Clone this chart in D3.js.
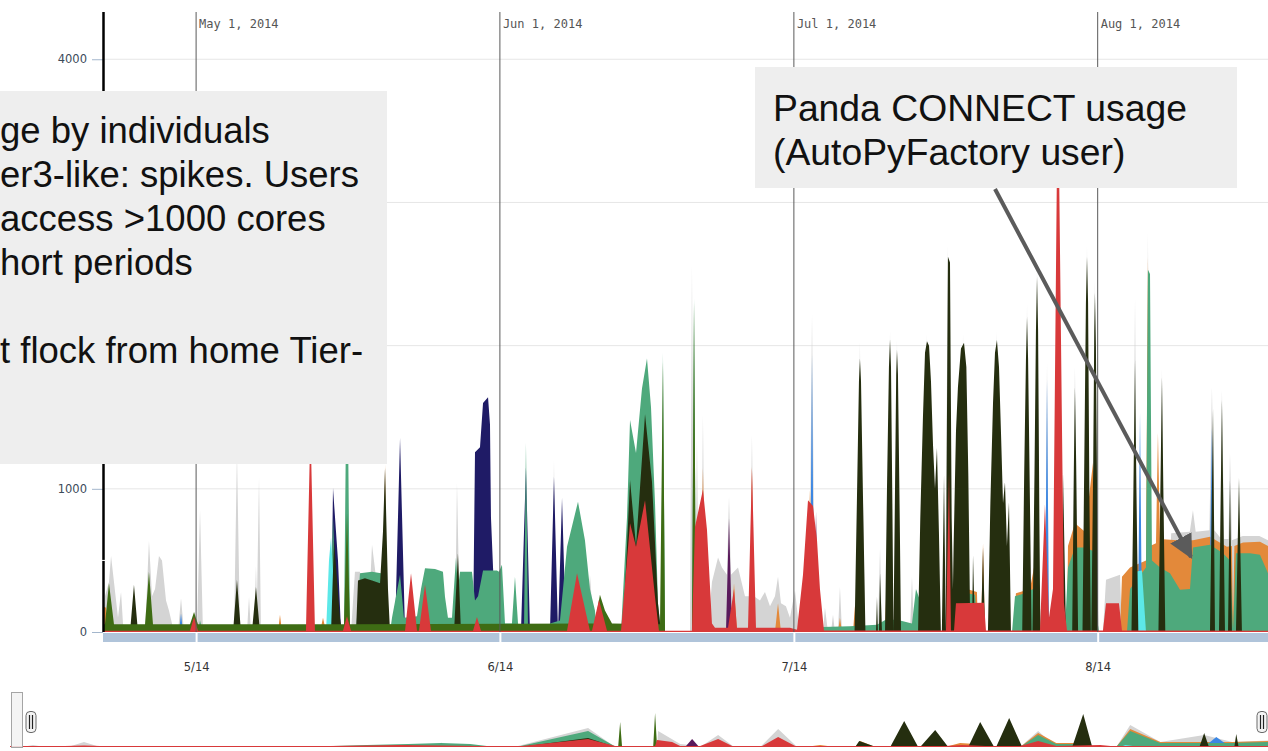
<!DOCTYPE html>
<html><head><meta charset="utf-8">
<script src="https://cdn.jsdelivr.net/npm/d3@7"></script>
<style>html,body{margin:0;padding:0;background:#fff;overflow:hidden}</style>
</head><body>
<svg id="c" width="1268" height="751"></svg>
<script>
// ---------- data ----------
// time: days after 2014-04-21 12:00 (left edge of the view); value: cores (top of each band)
const viewStart = [2014, 3, 21, 12];
const viewDays = 118.88;
const gridTicks = [1000, 2000, 3000, 4000];
const labelTicks = [0, 1000, 4000];          // 2000 / 3000 are hidden behind the note box
const monthStarts = ["2014-05-01", "2014-06-01", "2014-07-01", "2014-08-01"];
const monthTopLabels = ["May 1, 2014", "Jun 1, 2014", "Jul 1, 2014", "Aug 1, 2014"];

const other = [[0,0],[0.2,250],[0.61,350],[0.82,530],[1.12,350],[1.53,100],[1.84,280],[2.04,60],[2.24,0],
[4.29,0],[4.69,635],[5.0,250],[5.31,300],[5.71,530],[6.02,500],[6.43,220],[6.73,150],[7.04,60],[7.24,0],
[7.65,0],[7.96,235],[8.27,0],[9.59,0],[9.9,850],[10.2,0],[13.37,0],[13.67,1250],[13.98,0],
[14.69,0],[14.9,245],[15.1,0],[15.41,0],[15.61,460],[15.71,200],[15.92,1075],[16.12,0],
[19.8,0],[20.0,60],[20.2,0],[25.31,0],[25.71,420],[26.22,420],[26.43,0],[27.04,0],[27.45,610],[27.86,380],[28.27,0],
[35.92,0],[36.12,1040],[36.43,0],[45.82,0],[46.02,1200],[46.22,0],[49.29,0],[49.69,400],[50.1,0],
[59.9,0],[60.1,2560],[60.31,0],[60.41,0],[60.61,1340],[60.82,0],[61.02,0],[61.22,1515],[61.43,0],
[61.73,0],[62.14,350],[62.76,520],[63.16,450],[63.67,400],[63.88,945],[64.08,400],[64.8,450],[65.51,250],[66.02,250],[66.22,1375],[66.43,250],[67.04,220],[67.55,280],[68.06,180],[68.57,250],[68.88,385],[69.18,200],[69.69,180],[70.1,100],[70.61,290],[70.92,100],[71.43,0],
[72.04,0],[72.35,2215],[72.65,0],[73.47,0],[73.67,170],[73.98,0],[74.29,0],[74.49,120],[74.69,0],[75.0,0],[75.2,315],[75.41,0],
[76.94,0],[77.24,2025],[77.45,500],[77.55,920],[77.76,0],[79.08,0],[79.29,585],[79.49,0],
[80.0,0],[80.31,2110],[80.55,0],[80.75,0],[81.02,2040],[81.3,0],[82.35,0],[82.55,385],[82.76,0],
[83.7,0],[84.08,2080],[84.45,0],[85.92,0],[86.22,2700],[86.5,0],[87.4,0],[87.76,2080],[88.1,0],
[90.92,0],[91.22,2100],[91.5,0],[93.98,0],[94.29,2290],[94.55,0],[95.0,0],[95.31,2560],[95.6,0],
[96.12,0],[96.33,1880],[96.53,0],[98.88,0],[99.18,1850],[99.49,0],[100.1,0],[100.41,2700],[100.7,0],
[100.95,0],[101.22,2460],[101.5,0],[102.04,0],[102.35,365],[103.78,400],[103.98,0],
[105.05,0],[105.31,2330],[105.55,0],[106.43,0],[106.63,2790],[106.84,0],[107.8,0],[108.06,1840],[108.3,0],
[108.6,0],[109.0,690],[110.9,700],[111.22,850],[111.5,700],[112.9,710],[113.16,1710],[113.4,710],[114.0,660],[114.18,1690],[114.4,650],[114.85,650],[115.0,1250],[115.2,640],[116.3,670],[118.0,670],[118.88,640]];

const orange = [[0,180],[0.31,170],[0.51,0],[17.86,0],[18.06,120],[18.27,0],[22.14,0],[22.45,100],[22.76,0],
[28.57,0],[28.78,1170],[28.98,0],[60.92,0],[61.22,1145],[61.53,0],[64.08,0],[64.39,340],[64.69,0],
[66.02,0],[66.22,1160],[66.43,0],[68.57,0],[68.88,200],[69.18,0],[71.73,0],[72.14,990],[72.55,0],
[75.0,0],[75.2,100],[75.41,0],[76.53,0],[76.73,180],[76.94,0],[79.8,0],[80.0,455],[80.31,0],
[88.06,0],[88.16,300],[89.18,280],[89.29,0],[89.59,0],[89.8,620],[90.0,0],[90.61,0],[90.82,980],[91.02,0],
[92.86,0],[93.16,270],[94.59,300],[95.31,560],[95.61,0],
[98.37,0],[98.47,600],[99.18,760],[100.2,700],[101.02,1180],[101.33,600],[101.53,0],
[103.78,0],[103.98,385],[104.8,450],[106.43,500],[106.63,2620],[106.84,600],[107.45,620],[107.65,1390],[107.86,650],[109.59,640],[111.22,640],[112.96,665],[114.69,595],[115.2,600],[115.31,60],[115.45,600],[116.33,625],[118.06,630],[118.88,600]];

const purple = [[63.57,0],[63.88,795],[64.18,0],[72.55,0],[72.76,840],[72.96,0]];

const blue = [[7.76,0],[7.96,130],[8.16,0],[72.14,0],[72.35,1935],[72.55,0],[96.12,0],[96.33,1760],[96.53,0],
[105.61,0],[105.82,1530],[106.02,0],[112.86,0],[113.16,1425],[113.47,0]];

const navy = [[23.27,0],[23.47,1005],[23.98,500],[24.29,0],[29.8,0],[30.31,1355],[30.82,0],
[37.76,0],[37.96,1255],[38.47,1290],[38.78,1600],[39.29,1640],[39.49,1450],[39.59,800],[39.8,450],[40.1,0],
[42.65,0],[43.16,1150],[43.57,0],[45.61,0],[46.02,1085],[46.43,0],[46.84,935],[47.24,0]];

const green = [[9.69,0],[9.9,80],[10.2,0],[23.16,0],[23.47,800],[23.88,0],[24.59,0],[24.8,1450],[25.0,1450],[25.2,0],
[25.82,0],[26.22,410],[27.45,420],[28.37,410],[28.67,0],
[29.29,0],[29.49,100],[30.31,400],[30.71,100],[32.04,110],[32.45,300],[32.86,445],[33.88,440],[34.69,420],[34.9,245],[35.2,100],[35.61,100],[36.02,520],[36.22,300],[36.43,420],[37.65,420],[37.96,220],[38.27,250],[38.78,430],[40.2,430],[40.41,420],[40.71,470],[41.02,60],[41.73,60],[42.04,385],[42.35,60],[42.65,0],
[42.96,0],[43.16,1320],[43.37,0],
[45.41,0],[45.61,60],[46.63,80],[47.35,595],[48.47,910],[49.18,640],[49.69,300],[50.2,150],[50.4,0],
[52.86,0],[53.47,800],[53.78,1480],[54.39,1250],[55.0,1700],[55.51,1910],[55.92,1570],[56.33,900],[56.63,200],[56.94,0],
[57.14,1950],[57.35,0],[60.1,0],[60.31,2330],[60.51,0],
[73.16,0],[73.37,35],[76.22,40],[78.98,50],[80.0,90],[81.33,80],[82.55,60],[82.96,300],[83.37,220],[83.78,0],
[88.06,0],[88.16,270],[88.98,260],[89.29,0],[92.76,0],[93.06,250],[94.08,270],[94.9,300],[95.41,520],[95.71,0],
[98.16,0],[98.47,450],[99.18,590],[100.2,590],[101.22,560],[101.43,100],[101.63,0],
[104.49,0],[104.8,300],[106.43,450],[106.63,2530],[106.84,2500],[107.04,500],[107.86,450],[108.88,410],[109.9,295],[110.92,300],[111.22,590],[112.96,610],[114.29,550],[115.0,500],[115.31,20],[115.61,550],[117.04,550],[118.06,540],[118.88,410]];

const cyan = [[22.76,0],[23.06,500],[23.27,660],[23.57,300],[23.78,0],[105.0,0],[105.31,420],[106.02,430],[106.43,0]];

const dark = [[2.76,0],[3.16,330],[3.57,0],[13.27,0],[13.67,365],[14.08,0],[15.2,0],[15.61,315],[16.02,0],
[23.27,0],[23.57,640],[24.18,100],[24.39,0],
[25.82,0],[26.02,360],[26.73,375],[27.45,360],[28.27,340],[28.57,700],[28.78,1145],[29.08,300],[29.29,0],
[35.82,0],[36.22,550],[36.53,0],
[53.06,0],[53.78,1060],[54.39,600],[55.31,1520],[56.02,1050],[56.63,200],[56.94,0],
[76.69,0],[76.94,950],[77.14,1750],[77.24,1910],[77.35,1750],[77.55,950],[77.8,0],
[78.88,0],[78.98,245],[79.08,0],[79.18,0],[79.29,410],[79.49,0],
[79.8,0],[80.0,1000],[80.2,1850],[80.31,2045],[80.41,1850],[80.55,900],[80.66,0],
[80.82,1000],[80.94,1800],[81.02,1970],[81.12,1800],[81.3,800],[81.43,0],
[83.17,0],[83.4,800],[83.67,1500],[83.88,1950],[84.08,2030],[84.29,2000],[84.49,1750],[84.7,1300],[84.9,1000],[85.1,1285],[85.3,700],[85.5,0],
[85.6,0],[85.82,1095],[86.0,0],[86.12,1500],[86.22,2620],[86.43,2580],[86.6,800],[86.73,300],
[86.8,600],[87.04,1400],[87.24,1710],[87.55,1980],[87.86,2020],[88.1,1850],[88.3,1100],[88.5,0],
[88.67,0],[88.78,535],[88.98,0],[89.59,0],[89.8,590],[90.0,0],
[90.3,0],[90.55,900],[90.82,1600],[91.02,1950],[91.22,2040],[91.43,1850],[91.63,1400],[91.84,900],[92.04,1045],[92.24,600],[92.45,905],[92.65,0],
[93.8,0],[94.0,1100],[94.18,1900],[94.29,2200],[94.4,1900],[94.59,900],[94.75,0],
[94.85,0],[95.05,1100],[95.2,2100],[95.31,2480],[95.42,2100],[95.55,800],[95.65,0],
[97.76,0],[97.96,1110],[98.27,0],
[98.9,0],[99.08,1200],[99.18,1710],[99.3,1200],[99.5,0],
[99.95,0],[100.15,1300],[100.3,2300],[100.41,2620],[100.52,2300],[100.65,1000],[100.8,0],
[100.85,0],[101.05,1200],[101.15,2100],[101.22,2370],[101.32,2000],[101.45,900],[101.55,0],
[104.95,0],[105.15,1000],[105.31,1900],[105.45,1000],[105.65,0],
[107.7,0],[107.9,1000],[108.06,1780],[108.2,1000],[108.4,0],
[112.96,0],[113.27,1560],[113.47,0],[113.88,0],[114.18,1620],[114.49,0],[114.8,0],[115.0,1060],[115.2,0],[115.61,0],[115.92,1075],[116.22,0]];

const olive = [[0,55],[0.2,55],[0.61,340],[1.12,55],[4.29,55],[4.69,420],[5.1,55],[8.88,55],[9.29,140],[9.69,55],
[24.59,55],[24.9,830],[25.2,55],[50.2,60],[50.71,260],[51.22,150],[51.94,60],
[56.84,55],[57.14,1885],[57.35,0],[60.1,0],[60.31,2300],[60.51,0],[118.88,0]];

const red = [[0,8],[8.88,8],[9.29,105],[9.69,8],[20.71,8],[21.17,1450],[21.63,8],[24.49,8],[24.9,110],[25.31,8],
[30.82,8],[31.43,410],[32.04,8],[32.24,8],[32.86,330],[33.47,8],[37.76,8],[38.16,105],[38.57,8],
[47.35,8],[48.37,410],[49.69,8],[49.9,8],[50.61,225],[51.43,8],
[52.86,8],[53.78,760],[54.39,595],[55.31,920],[56.33,245],[56.73,8],
[60.1,8],[60.41,735],[61.22,995],[61.63,715],[62.14,60],[62.45,30],
[63.78,30],[64.39,300],[64.69,30],[65.82,30],[66.22,1145],[66.63,30],[70.1,30],[70.82,15],
[71.43,400],[71.94,920],[72.45,880],[72.86,640],[73.16,300],[73.57,10],
[86.02,10],[86.33,1110],[86.53,10],[86.84,10],[87.04,200],[89.9,205],[90.1,10],
[95.61,10],[96.12,890],[96.53,100],[96.94,300],[97.35,3300],[97.55,3300],[98.06,200],[98.37,10],
[102.04,10],[102.35,200],[103.67,200],[103.98,10],[118.88,8]];

// range-selector overview (coarser samples)
const navOther = [[1.13,0],[2.17,156],[3.31,0],[5.48,0],[6.99,390],[8.51,0],[47.64,0],[54.63,1482],[57.18,0],
[61.15,0],[61.25,1248],[63.33,234],[64.27,156],[65.22,0],[66.92,936],[68.43,0],[70.89,0],[72.59,1404],[74.39,0],
[95.46,0],[97.16,1248],[98.87,0],[104.54,0],[105.86,1716],[108.7,400],[112.85,936],[115.5,400],[118.9,500]];
const navOrange = [[62.38,0],[63.33,78],[64.27,0],[68.43,0],[69.47,78],[71.36,0],[75.14,0],[76.56,156],[77.98,0],
[79.87,0],[80.34,468],[81.76,0],[88.37,0],[89.79,312],[91.21,234],[92.16,0],[95.46,0],[97.16,1092],[98.87,312],[101.13,312],[101.5,0],
[104.54,0],[105.86,1404],[108.7,390],[115.5,390],[118.9,468]];
const navPurple = [[63.8,0],[64.46,624],[65.12,0]];
const navBlue = [[112.85,0],[113.99,780],[115.31,0]];
const navNavy = [[40.5,0],[40.74,330],[41.0,0]];
const navGreen = [[10.21,0],[11.15,78],[12.19,0],[16.07,0],[17.01,78],[17.96,0],[27.41,0],[33.74,156],[37.62,234],[40.74,312],[43.48,234],[45.84,0],
[47.83,0],[54.63,1248],[57.28,0],[95.46,0],[97.16,936],[98.87,234],[101.13,234],[101.5,0],[104.54,0],[105.86,1248],[108.7,312],[115.5,312],[118.9,390]];
const navCyan = [[104.91,0],[105.4,156],[106.81,0]];
const navDark = [[34.03,0],[37.24,117],[39.7,0],[48.2,0],[54.63,702],[57.18,0],[79.87,0],[80.25,468],[81.57,80],[81.85,0],
[83.18,0],[84.5,2028],[85.82,0],[86.01,0],[87.43,1326],[88.66,0],[90.55,0],[91.68,1950],[93.0,0],[93.19,0],[94.42,2262],[95.65,0],
[100.38,0],[101.42,2574],[102.27,0],[112.4,0],[112.85,1092],[113.3,0],[115.7,0],[115.88,1014],[116.1,0]];
const navOlive = [[57.47,0],[57.66,1950],[57.84,0],[60.78,0],[60.96,2652],[61.15,0]];
const navRed = [[0,80],[5.2,80],[6.99,117],[8.51,80],[30.25,80],[36.86,156],[44.42,80],[48.39,80],[54.63,624],[57.18,80],
[60.96,80],[61.15,546],[62.57,390],[63.33,80],[65.22,80],[66.92,624],[68.24,80],[71.08,80],[72.59,780],[74.2,80],
[88.37,80],[89.98,156],[92.16,80],[95.46,80],[97.16,468],[98.87,80],[103.02,156],[104.0,80],[118.9,80]];

const noteLeft = ["ge by individuals", "er3-like: spikes. Users", "access >1000 cores", "hort periods", "", "t flock from home Tier-"];
const noteRight = ["Panda CONNECT usage", "(AutoPyFactory user)"];

// ---------- drawing ----------
const colors = {other:"#d4d4d4", orange:"#e3893a", purple:"#5a1a5c", blue:"#3b87e3", navy:"#1f1b66",
  green:"#4ea97c", cyan:"#5ce8e8", dark:"#252e0f", olive:"#3e6c14", red:"#d8393a"};
// drawn from the top of the stack downwards
const layers = [["other",other],["orange",orange],["purple",purple],["blue",blue],["navy",navy],
  ["green",green],["cyan",cyan],["dark",dark],["olive",olive],["red",red]];
const navLayers = [["other",navOther],["orange",navOrange],["purple",navPurple],["blue",navBlue],["navy",navNavy],
  ["green",navGreen],["cyan",navCyan],["dark",navDark],["olive",navOlive],["red",navRed]];

const t0 = new Date(...viewStart);
const toDate = d => new Date(t0.getTime() + d * 864e5);
const parse = d3.timeParse("%Y-%m-%d");
const months = monthStarts.map(parse);

const L = 103, R = 1268, TOP = 12, BOT = 632;
const x = d3.scaleTime().domain([t0, toDate(viewDays)]).range([L, R]);
const y = d3.scaleLinear().domain([0, 4330]).range([BOT, TOP]);
const xn = d3.scaleTime().domain([t0, toDate(viewDays)]).range([10, 1268]);
const yn = d3.scaleLinear().domain([0, 4300]).range([747, 692]);

const svg = d3.select("#c");
const defs = svg.append("defs");
defs.append("clipPath").attr("id","mc").append("rect").attr("x",L).attr("y",0).attr("width",R-L).attr("height",BOT);
defs.append("clipPath").attr("id","nc").append("rect").attr("x",10).attr("y",680).attr("width",1258).attr("height",68);

// grid
svg.append("g").selectAll("line").data(gridTicks).join("line")
  .attr("x1", L).attr("x2", R).attr("y1", d => y(d)).attr("y2", d => y(d))
  .attr("stroke", "#e6e6e6").attr("stroke-width", 1);

// stacked areas
const area = d3.area().x(d => x(toDate(d[0]))).y0(y(0)).y1(d => y(d[1]));
svg.append("g").attr("clip-path","url(#mc)").selectAll("path").data(layers).join("path")
  .attr("d", d => area(d[1])).attr("fill", d => colors[d[0]]);

// month marker lines
svg.append("g").selectAll("line").data(months).join("line")
  .attr("x1", d => x(d)).attr("x2", d => x(d)).attr("y1", TOP).attr("y2", BOT)
  .attr("stroke", "#5a5a5a").attr("stroke-width", 1);
svg.append("g").selectAll("text").data(months).join("text")
  .attr("x", d => x(d) + 3).attr("y", 28).text((d, i) => monthTopLabels[i])
  .attr("font-family", "DejaVu Sans Mono").attr("font-size", 12).attr("fill", "#555");

// y axis
const ya = svg.append("g").attr("transform", `translate(${L},0)`)
  .call(d3.axisLeft(y).tickValues(labelTicks).tickSize(11).tickPadding(5).tickFormat(d3.format("d")));
ya.select(".domain").remove();
ya.selectAll(".tick line").attr("stroke", "#a3b6cc");
ya.selectAll(".tick text").attr("font-family", "DejaVu Sans").attr("font-size", 11.5).attr("fill", "#3c4b5a");
svg.append("line").attr("x1", L + 0.5).attr("x2", L + 0.5).attr("y1", TOP).attr("y2", BOT)
  .attr("stroke", "#000").attr("stroke-width", 2.5);
svg.append("g").selectAll("line").data([500,1500,2500,3500]).join("line")
  .attr("x1", L - 1).attr("x2", L + 2).attr("y1", d => y(d)).attr("y2", d => y(d))
  .attr("stroke", "#fff").attr("stroke-width", 1);

// bottom band + x axis
svg.append("rect").attr("x", L).attr("y", BOT + 1).attr("width", R - L).attr("height", 9).attr("fill", "#b0c4da");
svg.append("g").selectAll("line").data(months).join("line")
  .attr("x1", d => x(d) + 0.5).attr("x2", d => x(d) + 0.5).attr("y1", BOT + 1).attr("y2", BOT + 10)
  .attr("stroke", "#fff").attr("stroke-width", 2);
const xa = svg.append("g").attr("transform", `translate(0,${BOT + 28})`)
  .call(d3.axisBottom(x).tickValues(months).tickSize(0).tickPadding(3).tickFormat(d3.timeFormat("%-m/%y")));
xa.select(".domain").remove();
xa.selectAll(".tick text").attr("font-family", "DejaVu Sans").attr("font-size", 11.5).attr("fill", "#333");

// range selector overview
const areaN = d3.area().x(d => xn(toDate(d[0]))).y0(yn(0)).y1(d => yn(d[1]));
svg.append("g").attr("clip-path","url(#nc)").selectAll("path").data(navLayers).join("path")
  .attr("d", d => areaN(d[1])).attr("fill", d => colors[d[0]]);
svg.append("rect").attr("x", 11.5).attr("y", 692.5).attr("width", 11).attr("height", 55)
  .attr("fill", "#f2f2f2").attr("fill-opacity", 0.85).attr("stroke", "#a5a5a5");
[31, 1262].forEach(cx => {
  const g = svg.append("g");
  g.append("rect").attr("x", cx - 5).attr("y", 711.5).attr("width", 10).attr("height", 21).attr("rx", 4)
    .attr("fill", "#f4f4f4").attr("stroke", "#6a6a6a");
  [-1.5, 1.5].forEach(o => g.append("line").attr("x1", cx + o).attr("x2", cx + o).attr("y1", 715).attr("y2", 729)
    .attr("stroke", "#222").attr("stroke-width", 1.2));
});

// annotation boxes
const fontNote = "Liberation Sans, Arial, sans-serif";
svg.append("rect").attr("x", 0).attr("y", 91).attr("width", 387).attr("height", 373).attr("fill", "#eeeeee");
svg.append("g").selectAll("text").data(noteLeft).join("text")
  .attr("x", 0).attr("y", (d, i) => 143 + 44 * i).text(d => d)
  .attr("font-family", fontNote).attr("font-size", 36.5).attr("fill", "#111");
svg.append("rect").attr("x", 755).attr("y", 67).attr("width", 482).attr("height", 121).attr("fill", "#eeeeee");
svg.append("g").selectAll("text").data(noteRight).join("text")
  .attr("x", 773).attr("y", (d, i) => 121 + 44 * i).text(d => d)
  .attr("font-family", fontNote).attr("font-size", 37.3).attr("fill", "#111");

// arrow
defs.append("marker").attr("id", "ah").attr("viewBox", "0 0 10 10").attr("refX", 9).attr("refY", 5)
  .attr("markerWidth", 6).attr("markerHeight", 6).attr("orient", "auto").attr("markerUnits", "strokeWidth")
  .append("path").attr("d", "M0,0 L10,5 L0,10 Z").attr("fill", "#5b5b5b");
svg.append("line").attr("x1", 995).attr("y1", 189).attr("x2", 1191).attr("y2", 557)
  .attr("stroke", "#5b5b5b").attr("stroke-width", 4).attr("marker-end", "url(#ah)");
</script>
</body></html>
